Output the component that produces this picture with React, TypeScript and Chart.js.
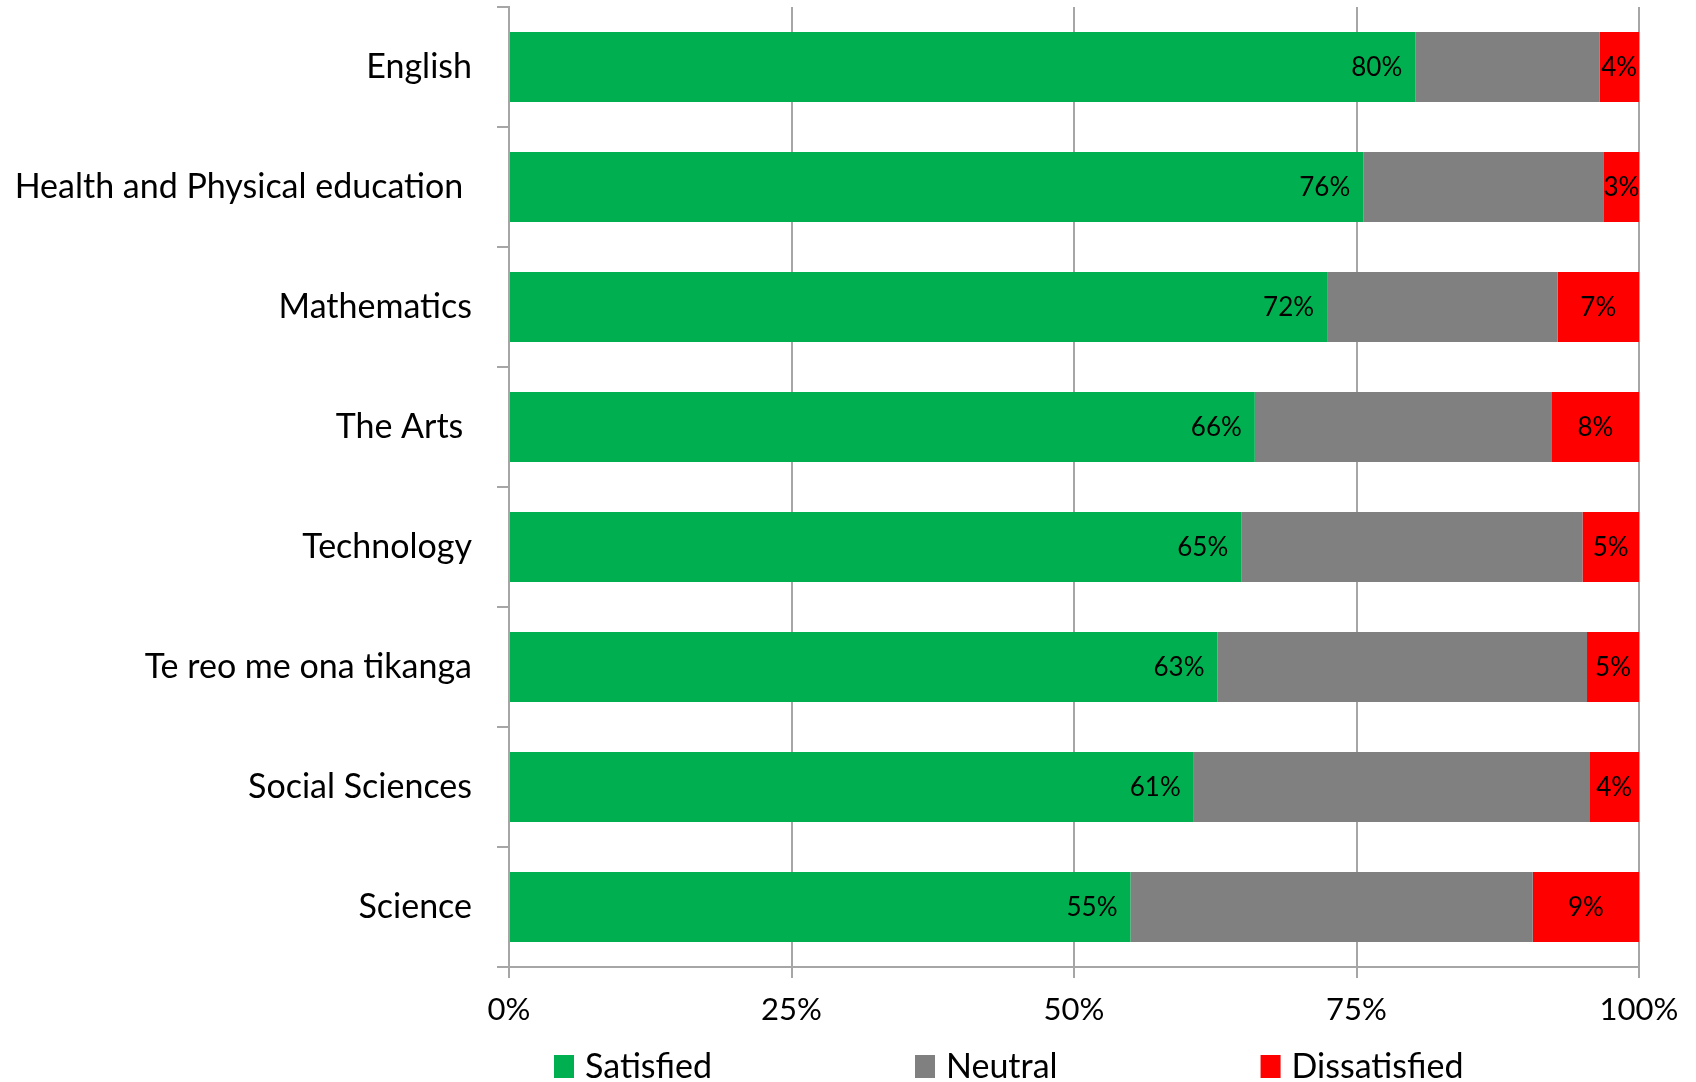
import React, { useEffect, useRef } from "react";
import { Chart, registerables } from "chart.js";

Chart.register(...registerables);

const categories = [
  "English",
  "Health and Physical education ",
  "Mathematics",
  "The Arts ",
  "Technology",
  "Te reo me ona tikanga",
  "Social Sciences",
  "Science",
];
const satisfied = [80.2, 75.6, 72.4, 66.0, 64.8, 62.7, 60.6, 55.0];
const neutral = [16.3, 21.3, 20.4, 26.3, 30.2, 32.7, 35.0, 35.6];
const dissatisfied = [3.5, 3.1, 7.2, 7.7, 5.0, 4.6, 4.4, 9.4];
const seriesNames = ["Satisfied", "Neutral", "Dissatisfied"];
const seriesColors = ["#00B050", "#808080", "#FF0000"];
const labelledSeries = [0, 2];
const xTickStep = 25;

const FONT = "Lato, 'Noto Sans', sans-serif";

const dataLabelPlugin = {
  id: "dataLabels",
  afterDatasetsDraw(chart: any) {
    const ctx = chart.ctx;
    ctx.save();
    ctx.font = `26px ${FONT}`;
    ctx.fillStyle = "#000";
    ctx.textBaseline = "middle";
    labelledSeries.forEach((di) => {
      const meta = chart.getDatasetMeta(di);
      const values = chart.data.datasets[di].data;
      meta.data.forEach((bar: any, i: number) => {
        const txt = Math.round(values[i]) + "%";
        if (di === 0) {
          ctx.textAlign = "right";
          ctx.fillText(txt, bar.x - 13, bar.y + 1);
        } else {
          ctx.textAlign = "center";
          ctx.fillText(txt, (bar.x + bar.base) / 2, bar.y + 1);
        }
      });
    });
    ctx.restore();
  },
};

const legendPlugin = {
  id: "customLegend",
  afterDraw(chart: any) {
    const ctx = chart.ctx;
    const area = chart.chartArea;
    ctx.save();
    ctx.font = `34px ${FONT}`;
    ctx.textBaseline = "middle";
    ctx.textAlign = "left";
    const y = area.bottom + 99;
    let x = area.left + 45;
    const gap = 203;
    seriesNames.forEach((name, i) => {
      ctx.fillStyle = seriesColors[i];
      ctx.fillRect(x, y - 11, 20, 23);
      ctx.fillStyle = "#000";
      ctx.fillText(name, x + 31, y + 1);
      x += 31 + ctx.measureText(name).width + gap;
    });
    ctx.restore();
  },
};

export default function App() {
  const ref = useRef<HTMLCanvasElement | null>(null);
  useEffect(() => {
    if (!ref.current) return;
    const chart = new Chart(ref.current, {
      type: "bar",
      data: {
        labels: categories,
        datasets: [satisfied, neutral, dissatisfied].map((d, i) => ({
          label: seriesNames[i],
          data: d,
          backgroundColor: seriesColors[i],
          borderWidth: 0,
          barPercentage: 0.583,
          categoryPercentage: 1,
        })),
      },
      options: {
        indexAxis: "y",
        animation: false,
        responsive: false,
        maintainAspectRatio: false,
        layout: { padding: { top: 7, right: 57, left: 0, bottom: 0 } },
        plugins: {
          legend: { display: false },
          tooltip: { enabled: false },
        },
        scales: {
          x: {
            stacked: true,
            min: 0,
            max: 100,
            ticks: {
              stepSize: xTickStep,
              callback: (v: any) => v + "%",
              font: { family: FONT, size: 31 },
              color: "#000",
              padding: 13,
              maxRotation: 0,
            },
            grid: { color: "#a6a6a6", lineWidth: 2, tickLength: 11 },
            border: { color: "#a6a6a6", width: 2 },
            afterFit: (s: any) => {
              s.height = 115;
              s.paddingLeft = 0;
              s.paddingRight = 0;
            },
          },
          y: {
            stacked: true,
            ticks: {
              font: { family: FONT, size: 34 },
              color: "#000",
              padding: 25,
            },
            grid: {
              offset: true,
              drawOnChartArea: false,
              color: "#a6a6a6",
              lineWidth: 2,
              tickLength: 12,
            },
            border: { color: "#a6a6a6", width: 2 },
            afterFit: (s: any) => {
              s.width = 509;
              s.paddingTop = 0;
              s.paddingBottom = 0;
            },
          },
        },
      },
      plugins: [dataLabelPlugin, legendPlugin],
    } as any);
    return () => chart.destroy();
  }, []);
  return (
    <div style={{ position: "fixed", left: 0, top: 0, width: 1696, height: 1082, background: "#fff" }}>
      <canvas ref={ref} width={1696} height={1082} style={{ width: 1696, height: 1082 }} />
    </div>
  );
}
